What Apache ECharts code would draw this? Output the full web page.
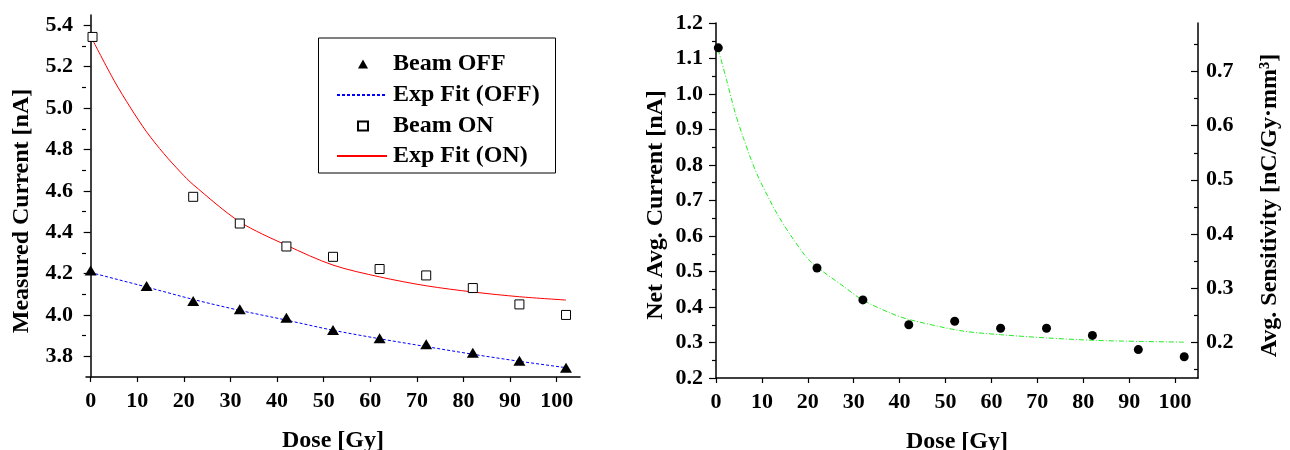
<!DOCTYPE html>
<html>
<head>
<meta charset="utf-8">
<script src="https://cdn.jsdelivr.net/npm/echarts@6/dist/echarts.min.js"></script>
<style>
html, body { margin: 0; padding: 0; background: #fff; }
#chart { width: 1290px; height: 450px; }
</style>
</head>
<body>
<div id="chart"></div>
<script>
// left panel: measured current, beam off / on
var doseOff = [0, 12, 22, 32, 42, 52, 62, 72, 82, 92, 102]
var beamOff = [4.215, 4.14, 4.067, 4.027, 3.986, 3.927, 3.887, 3.858, 3.817, 3.779, 3.745]
var fitOffDose = [0, 12, 22, 32, 42, 52, 62, 72, 82, 92, 102]
var fitOff = [4.205, 4.135, 4.075, 4.022, 3.975, 3.926, 3.885, 3.847, 3.81, 3.776, 3.745]

var doseOn = [0.4, 22, 32, 42, 52, 62, 72, 82, 92, 102]
var beamOn = [5.344, 4.571, 4.442, 4.331, 4.281, 4.222, 4.191, 4.130, 4.051, 4.000]
var fitOnDose = [0.4, 5, 8.6, 12, 15.7, 19.3, 22, 32, 42, 52, 62, 72, 82, 92, 102]
var fitOn = [5.33, 5.134, 5.0, 4.885, 4.78, 4.69, 4.63, 4.45, 4.337, 4.241, 4.184, 4.141, 4.111, 4.088, 4.072]

// right panel: net average current
var doseNet = [0.5, 22, 32, 42, 52, 62, 72, 82, 92, 102]
var netCurrent = [1.13, 0.51, 0.42, 0.35, 0.36, 0.34, 0.34, 0.32, 0.28, 0.26]
var fitNetDose = [0.5, 2.3, 4.2, 6, 7.8, 9.6, 13.3, 16.9, 20.6, 27.8, 31.9, 38, 42, 53.4, 62, 72, 82.5, 92.7, 102.2]
var fitNet = [1.125, 1.04, 0.946, 0.875, 0.81, 0.755, 0.663, 0.59, 0.528, 0.458, 0.42, 0.383, 0.365, 0.333, 0.322, 0.313, 0.306, 0.303, 0.301]

// ticks
var doseTicks = [0, 10, 20, 30, 40, 50, 60, 70, 80, 90, 100]
var measTicks = [3.8, 4.0, 4.2, 4.4, 4.6, 4.8, 5.0, 5.2, 5.4]
var measMinor = [3.9, 4.1, 4.3, 4.5, 4.7, 4.9, 5.1, 5.3]
var netTicks = [0.2, 0.3, 0.4, 0.5, 0.6, 0.7, 0.8, 0.9, 1.0, 1.1, 1.2]
var netMinor = [0.25, 0.35, 0.45, 0.55, 0.65, 0.75, 0.85, 0.95, 1.05, 1.15]
var sensTicks = [0.2, 0.3, 0.4, 0.5, 0.6, 0.7]
var sensMinor = [0.15, 0.25, 0.35, 0.45, 0.55, 0.65, 0.75]

var font = 'Liberation Serif'

function pairs(xs, ys) {
  var out = []
  for (var i = 0; i < xs.length; i++) out.push([xs[i], ys[i]])
  return out
}

var labelStyle = {
  color: '#000',
  fontFamily: font,
  fontWeight: 'bold',
  fontSize: 22
}
function nameStyle(shift) {
  // padding on the rotated text moves it along the axis
  return {
    color: '#000',
    fontFamily: font,
    fontWeight: 'bold',
    fontSize: 24,
    padding: [0, shift, 0, 0]
  }
}

function doseAxis(grid, min, max) {
  return {
    gridIndex: grid,
    type: 'value',
    min: min,
    max: max,
    name: 'Dose [Gy]',
    nameLocation: 'middle',
    nameGap: 52,
    nameTextStyle: nameStyle(0),
    axisLine: { lineStyle: { color: '#000', width: 1.5 } },
    axisTick: { customValues: doseTicks, length: 5, lineStyle: { color: '#000', width: 1.2 } },
    axisLabel: Object.assign({ customValues: doseTicks, margin: 13 }, labelStyle),
    splitLine: { show: false }
  }
}

function majorAxis(grid, pos, min, max, ticks, inside, margin, name, gap, shift) {
  return {
    gridIndex: grid,
    type: 'value',
    position: pos,
    min: min,
    max: max,
    name: name,
    nameLocation: 'middle',
    nameGap: gap,
    nameTextStyle: nameStyle(shift),
    axisLine: { show: true, lineStyle: { color: '#000', width: 1.5 } },
    axisTick: { inside: inside, customValues: ticks, length: 7, lineStyle: { color: '#000', width: 1.2 } },
    axisLabel: Object.assign({
      customValues: ticks,
      margin: margin,
      formatter: function (v) { return v.toFixed(1) }
    }, labelStyle),
    splitLine: { show: false }
  }
}

function minorAxis(grid, pos, min, max, ticks, inside) {
  return {
    gridIndex: grid,
    type: 'value',
    position: pos,
    min: min,
    max: max,
    axisLine: { show: false },
    axisTick: { inside: inside, customValues: ticks, length: 4, lineStyle: { color: '#000', width: 1.2 } },
    axisLabel: { show: false },
    splitLine: { show: false }
  }
}

var legendText = { color: '#000', fontFamily: font, fontWeight: 'bold', fontSize: 24 }

var option = {
  animation: false,
  backgroundColor: '#fff',
  textStyle: { fontFamily: font },
  grid: [
    { left: 86, top: 15, width: 494, height: 362, outerBoundsMode: 'none' },
    { left: 716, top: 23, width: 482, height: 355, outerBoundsMode: 'none' }
  ],
  // legend frame
  graphic: [{
    type: 'rect',
    shape: { x: 318.5, y: 38, width: 237, height: 135 },
    style: { fill: 'none', stroke: '#000', lineWidth: 1 },
    silent: true
  }],
  legend: [
    {
      // marker rows
      left: 357,
      top: 52,
      orient: 'vertical',
      padding: 0,
      itemGap: 38,
      itemWidth: 10,
      itemHeight: 9,
      textStyle: Object.assign({ padding: [0, 0, 0, 20] }, legendText),
      data: ['Beam OFF', 'Beam ON']
    },
    {
      // fit line rows
      left: 336,
      top: 83,
      orient: 'vertical',
      padding: 0,
      itemGap: 37,
      itemWidth: 50,
      itemHeight: 9,
      textStyle: Object.assign({ padding: [0, 0, 0, 1] }, legendText),
      data: [
        { name: 'Exp Fit (OFF)', itemStyle: { opacity: 0 } },
        { name: 'Exp Fit (ON)', itemStyle: { opacity: 0 } }
      ]
    }
  ],
  xAxis: [
    doseAxis(0, -1, 105),
    doseAxis(1, 0, 105)
  ],
  yAxis: [
    majorAxis(0, 'left', 3.7, 5.45, measTicks, false, 13, 'Measured Current [nA]', 52, 30),
    minorAxis(0, 'left', 3.7, 5.45, measMinor, false),
    majorAxis(1, 'left', 0.2, 1.2, netTicks, false, 13, 'Net Avg. Current [nA]', 48, 9),
    minorAxis(1, 'left', 0.2, 1.2, netMinor, false),
    majorAxis(1, 'right', 0.1334, 0.79, sensTicks, true, 8, 'Avg. Sensitivity [nC/Gy\u00b7mm\u00b3]', 60, 10),
    minorAxis(1, 'right', 0.1334, 0.79, sensMinor, true)
  ],
  series: [
    {
      name: 'Beam OFF',
      type: 'scatter',
      xAxisIndex: 0,
      yAxisIndex: 0,
      symbol: 'triangle',
      symbolSize: [12, 10],
      itemStyle: { color: '#000', opacity: 1 },
      z: 4,
      data: pairs(doseOff, beamOff)
    },
    {
      name: 'Exp Fit (OFF)',
      type: 'line',
      xAxisIndex: 0,
      yAxisIndex: 0,
      smooth: 0.3,
      symbol: 'none',
      lineStyle: { color: '#0000ff', width: 1, type: [3, 2] },
      itemStyle: { color: '#0000ff' },
      z: 2,
      data: pairs(fitOffDose, fitOff)
    },
    {
      name: 'Beam ON',
      type: 'scatter',
      xAxisIndex: 0,
      yAxisIndex: 0,
      symbol: 'rect',
      symbolSize: 9,
      itemStyle: { color: '#fff', borderColor: '#000', borderWidth: 1, opacity: 1 },
      z: 4,
      data: pairs(doseOn, beamOn)
    },
    {
      name: 'Exp Fit (ON)',
      type: 'line',
      xAxisIndex: 0,
      yAxisIndex: 0,
      smooth: 0.3,
      symbol: 'none',
      lineStyle: { color: '#ff0000', width: 1 },
      itemStyle: { color: '#ff0000' },
      z: 2,
      data: pairs(fitOnDose, fitOn)
    },
    {
      name: 'Net Avg. Current',
      type: 'scatter',
      xAxisIndex: 1,
      yAxisIndex: 2,
      symbol: 'circle',
      symbolSize: 9,
      itemStyle: { color: '#000', opacity: 1 },
      z: 4,
      data: pairs(doseNet, netCurrent)
    },
    {
      name: 'Exp Fit (Net)',
      type: 'line',
      xAxisIndex: 1,
      yAxisIndex: 2,
      smooth: 0.3,
      symbol: 'none',
      lineStyle: { color: '#22ee22', width: 1, type: [5, 2, 1, 2] },
      itemStyle: { color: '#22ee22' },
      z: 2,
      data: pairs(fitNetDose, fitNet)
    }
  ]
}

function init() {
  var chart = echarts.init(document.getElementById('chart'))
  chart.setOption(option)
}
init()
</script>
</body>
</html>
